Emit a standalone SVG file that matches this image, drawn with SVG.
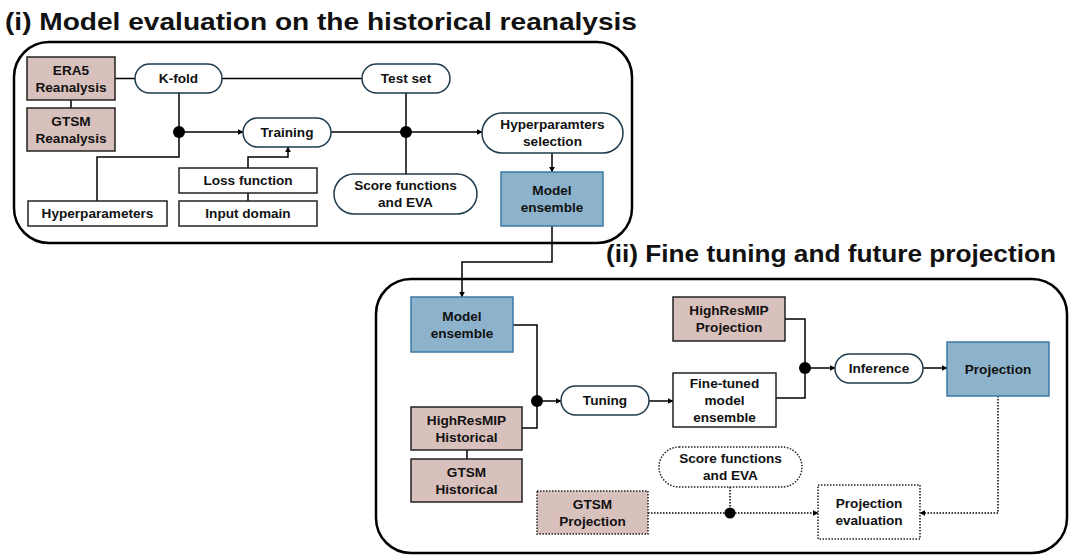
<svg xmlns="http://www.w3.org/2000/svg" width="1073" height="555" viewBox="0 0 1073 555">
<defs>
<marker id="arr" viewBox="0 0 10 10" refX="9" refY="5" markerWidth="6" markerHeight="6" markerUnits="userSpaceOnUse" orient="auto">
<path d="M0,0 L10,5 L0,10 z" fill="#000"/>
</marker>
<style>
text{font-family:"Liberation Sans",Arial,sans-serif;font-weight:bold;font-size:13.6px;fill:#111;text-anchor:middle}
.title{font-size:24px;text-anchor:start}
.frame{fill:#fff;stroke:#000;stroke-width:2.5}
.pink{fill:#d8c0bc;stroke:#222;stroke-width:1.5}
.blue{fill:#8db3cc;stroke:#3b7aa5;stroke-width:1.5}
.plain{fill:#fff;stroke:#222;stroke-width:1.5}
.pill{fill:#fff;stroke:#1d3a4d;stroke-width:1.5}
.dotted{stroke-dasharray:1.5 1.5}
.conn path,.conn line{fill:none;stroke:#000;stroke-width:1.5}
.conn .dl{stroke-dasharray:1.5 1.5}
.dot{fill:#000;stroke:none}
</style>
</defs>
<rect width="1073" height="555" fill="#fff"/>

<text class="title" x="5" y="30" textLength="632" lengthAdjust="spacingAndGlyphs">(i) Model evaluation on the historical reanalysis</text>
<rect class="frame" x="14" y="42" width="618" height="201" rx="35"/>

<text class="title" x="606" y="262" textLength="450" lengthAdjust="spacingAndGlyphs">(ii) Fine tuning and future projection</text>
<rect class="frame" x="376" y="279" width="691" height="274" rx="35"/>

<g id="connectors" class="conn">
<line x1="115" y1="78.5" x2="135" y2="78.5"/>
<line x1="71" y1="100" x2="71" y2="108"/>
<line x1="222" y1="78.5" x2="362" y2="78.5"/>
<line x1="179" y1="93" x2="179" y2="132"/>
<line x1="179" y1="132" x2="243" y2="132" marker-end="url(#arr)"/>
<path d="M179,132 V157 H97 V201"/>
<path d="M248,168 V157 H288 V147" marker-end="url(#arr)"/>
<line x1="248" y1="193" x2="248" y2="201"/>
<line x1="331" y1="132" x2="406" y2="132"/>
<line x1="406" y1="93" x2="406" y2="174"/>
<line x1="406" y1="132" x2="482" y2="132" marker-end="url(#arr)"/>
<line x1="552" y1="153" x2="552" y2="172" marker-end="url(#arr)"/>
<path d="M552,226 V262 H462 V297" marker-end="url(#arr)"/>
<path d="M513,325 H537 V401"/>
<path d="M522,428 H537 V401"/>
<line x1="537" y1="401" x2="561" y2="401" marker-end="url(#arr)"/>
<line x1="467" y1="450" x2="467" y2="459"/>
<line x1="649" y1="401" x2="673" y2="401" marker-end="url(#arr)"/>
<path d="M785,319 H805 V368"/>
<path d="M776,398 H805 V368"/>
<line x1="805" y1="368" x2="835" y2="368" marker-end="url(#arr)"/>
<line x1="923" y1="368" x2="947" y2="368" marker-end="url(#arr)"/>
<path class="dl" d="M998,396 V513 H920" marker-end="url(#arr)"/>
<line class="dl" x1="648" y1="513" x2="818" y2="513" marker-end="url(#arr)"/>
<line class="dl" x1="730" y1="487" x2="730" y2="513"/>
<circle class="dot" cx="179" cy="132" r="6"/>
<circle class="dot" cx="406" cy="132" r="6"/>
<circle class="dot" cx="537" cy="401" r="6"/>
<circle class="dot" cx="805" cy="368" r="6"/>
<circle class="dot" cx="730" cy="513" r="5.5"/>
</g>

<g id="era5"><rect class="pink" x="27" y="57" width="88" height="43"/><text x="71" y="74.5">ERA5</text><text x="71" y="91.5">Reanalysis</text></g>
<g id="gtsm-reanalysis"><rect class="pink" x="27" y="108" width="88" height="43"/><text x="71" y="125.5">GTSM</text><text x="71" y="142.5">Reanalysis</text></g>
<g id="kfold"><rect class="pill" x="135" y="64" width="87" height="29" rx="14.5"/><text x="178.5" y="83">K-fold</text></g>
<g id="testset"><rect class="pill" x="362" y="64" width="88" height="29" rx="14.5"/><text x="406" y="83">Test set</text></g>
<g id="training"><rect class="pill" x="243" y="118" width="88" height="29" rx="14.5"/><text x="287" y="137">Training</text></g>
<g id="hyperparameters"><rect class="plain" x="28" y="201" width="139" height="25"/><text x="97.5" y="218">Hyperparameters</text></g>
<g id="loss"><rect class="plain" x="179" y="168" width="138" height="25"/><text x="248" y="185">Loss function</text></g>
<g id="input"><rect class="plain" x="179" y="201" width="138" height="25"/><text x="248" y="218">Input domain</text></g>
<g id="score1"><rect class="pill" x="334" y="174" width="143" height="40" rx="20"/><text x="405.5" y="190">Score functions</text><text x="405.5" y="207">and EVA</text></g>
<g id="hps"><rect class="pill" x="482" y="113" width="141" height="40" rx="20"/><text x="552.5" y="129">Hyperparamters</text><text x="552.5" y="146">selection</text></g>
<g id="ensemble1"><rect class="blue" x="501" y="172" width="102" height="54"/><text x="552" y="195">Model</text><text x="552" y="212">ensemble</text></g>

<g id="ensemble2"><rect class="blue" x="411" y="297" width="102" height="55"/><text x="462" y="320.5">Model</text><text x="462" y="337.5">ensemble</text></g>
<g id="hrm-hist"><rect class="pink" x="411" y="407" width="111" height="43"/><text x="466.5" y="424.5">HighResMIP</text><text x="466.5" y="441.5">Historical</text></g>
<g id="gtsm-hist"><rect class="pink" x="411" y="459" width="111" height="43"/><text x="466.5" y="476.5">GTSM</text><text x="466.5" y="493.5">Historical</text></g>
<g id="tuning"><rect class="pill" x="561" y="386" width="88" height="29" rx="14.5"/><text x="605" y="405">Tuning</text></g>
<g id="hrm-proj"><rect class="pink" x="673" y="297" width="112" height="44"/><text x="729" y="315">HighResMIP</text><text x="729" y="332">Projection</text></g>
<g id="finetuned"><rect class="plain" x="673" y="373" width="103" height="54"/><text x="724.5" y="387.5">Fine-tuned</text><text x="724.5" y="404.5">model</text><text x="724.5" y="421.5">ensemble</text></g>
<g id="inference"><rect class="pill" x="835" y="354" width="88" height="29" rx="14.5"/><text x="879" y="373">Inference</text></g>
<g id="projection"><rect class="blue" x="947" y="342" width="102" height="54"/><text x="998" y="373.5">Projection</text></g>
<g id="score2"><rect class="pill dotted" x="659" y="447" width="143" height="40" rx="20" style="stroke:#222"/><text x="730.5" y="463">Score functions</text><text x="730.5" y="480">and EVA</text></g>
<g id="gtsm-proj"><rect class="pink dotted" x="537" y="491" width="111" height="43"/><text x="592.5" y="508.5">GTSM</text><text x="592.5" y="525.5">Projection</text></g>
<g id="proj-eval"><rect class="plain dotted" x="818" y="485" width="102" height="54"/><text x="869" y="508">Projection</text><text x="869" y="525">evaluation</text></g>
</svg>
